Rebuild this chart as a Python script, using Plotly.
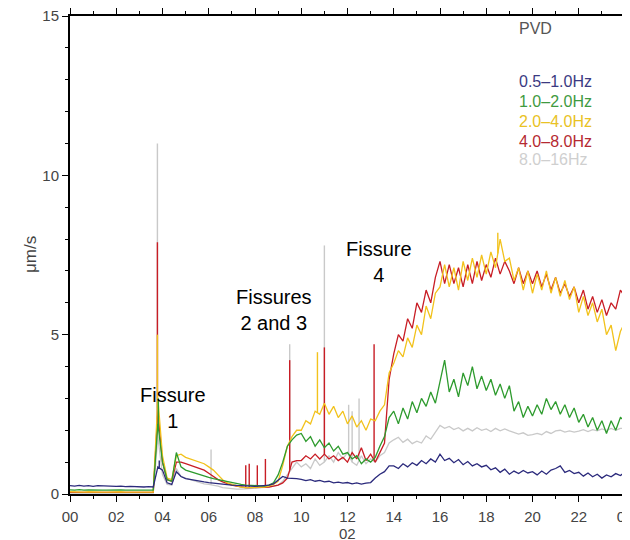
import numpy as np
import plotly.graph_objects as go

# ---- data ----
HOURS = [round(i * 0.2, 1) for i in range(121)]   # sample grid, 0..24 h every 0.2 h

BAND_NAMES = ["0.5\u20131.0Hz", "1.0\u20132.0Hz", "2.0\u20134.0Hz", "4.0\u20138.0Hz", "8.0\u201316Hz"]

BLUE = [0.26, 0.25, 0.27, 0.25, 0.26, 0.24, 0.26, 0.25, 0.24, 0.25,
        0.24, 0.25, 0.23, 0.24, 0.23, 0.24, 0.22, 0.23, 0.22, 0.85,
        0.75, 0.35, 0.30, 0.70, 0.55, 0.48, 0.45, 0.42, 0.40, 0.38,
        0.36, 0.34, 0.32, 0.30, 0.30, 0.28, 0.27, 0.27, 0.26, 0.25,
        0.24, 0.25, 0.26, 0.28, 0.32, 0.45, 0.55, 0.50, 0.50, 0.48,
        0.46, 0.42, 0.45, 0.40, 0.43, 0.38, 0.40, 0.35, 0.37, 0.34,
        0.36, 0.32, 0.35, 0.31, 0.34, 0.36, 0.50, 0.62, 0.70, 0.88,
        0.88, 0.80, 0.95, 0.85, 0.98, 0.90, 1.05, 0.95, 1.10, 1.00,
        1.25, 1.05, 1.12, 0.98, 1.08, 0.92, 1.02, 0.88, 0.95, 0.85,
        0.90, 0.76, 0.82, 0.68, 0.78, 0.62, 0.72, 0.64, 0.74, 0.66,
        0.70, 0.60, 0.72, 0.62, 0.75, 0.80, 0.88, 0.68, 0.74, 0.64,
        0.68, 0.56, 0.66, 0.54, 0.62, 0.50, 0.60, 0.54, 0.64, 0.58,
        0.68]

GREEN = [0.13, 0.12, 0.14, 0.12, 0.13, 0.12, 0.13, 0.12, 0.12, 0.13,
         0.12, 0.13, 0.12, 0.12, 0.11, 0.12, 0.12, 0.11, 0.12, 2.20,
         1.00, 0.45, 0.40, 1.30, 0.85, 0.75, 0.70, 0.65, 0.60, 0.56,
         0.52, 0.48, 0.45, 0.40, 0.38, 0.35, 0.32, 0.30, 0.28, 0.27,
         0.25, 0.24, 0.25, 0.28, 0.35, 0.60, 1.00, 1.50, 1.70, 1.85,
         1.90, 1.65, 1.80, 1.50, 1.70, 1.45, 1.60, 1.35, 1.50, 1.25,
         1.30, 1.10, 1.20, 0.95, 1.10, 1.00, 1.15, 1.50, 1.80, 2.40,
         2.60, 2.20, 2.70, 2.35, 2.90, 2.55, 3.00, 2.75, 3.20, 2.85,
         3.50, 4.20, 3.20, 3.60, 3.05, 3.80, 3.40, 4.00, 3.30, 3.70,
         3.25, 3.60, 3.10, 3.45, 3.00, 3.40, 2.60, 2.90, 2.40, 2.75,
         2.45, 2.80, 2.50, 3.00, 2.65, 2.90, 2.50, 2.80, 2.40, 2.70,
         2.25, 2.50, 2.10, 2.40, 2.00, 2.30, 1.90, 2.30, 2.00, 2.40,
         2.30]

YELLOW = [0.07, 0.06, 0.07, 0.06, 0.07, 0.06, 0.07, 0.06, 0.06, 0.07,
          0.06, 0.07, 0.06, 0.06, 0.06, 0.06, 0.06, 0.06, 0.06, 3.00,
          1.20, 0.50, 0.45, 1.20, 1.25, 1.15, 1.10, 1.05, 1.00, 0.95,
          0.85, 0.75, 0.60, 0.45, 0.35, 0.30, 0.25, 0.22, 0.20, 0.20,
          0.20, 0.20, 0.22, 0.25, 0.30, 0.40, 0.90, 1.50, 1.80, 2.00,
          2.00, 2.30, 2.20, 2.60, 2.50, 2.85, 2.50, 2.75, 2.40, 2.60,
          2.20, 2.45, 2.10, 2.30, 2.00, 2.35, 2.30, 2.60, 2.80, 3.80,
          4.10, 4.50, 4.30, 4.90, 4.60, 5.30, 5.00, 5.90, 5.50, 6.30,
          6.50, 7.20, 6.50, 7.10, 6.40, 7.30, 6.70, 7.40, 6.80, 7.50,
          6.90, 7.60, 7.10, 8.00, 7.30, 7.40, 6.70, 7.10, 6.40, 7.00,
          6.30, 6.90, 6.40, 7.00, 6.30, 6.80, 6.20, 6.70, 6.10, 6.50,
          5.70, 6.20, 5.60, 6.00, 5.40, 5.80, 5.00, 5.30, 4.50, 5.10,
          5.40]

RED = [0.05, 0.05, 0.06, 0.05, 0.05, 0.05, 0.06, 0.05, 0.05, 0.05,
       0.05, 0.05, 0.05, 0.06, 0.05, 0.05, 0.05, 0.05, 0.05, 2.60,
       1.00, 0.45, 0.40, 1.00, 1.00, 0.95, 0.90, 0.85, 0.80, 0.75,
       0.65, 0.55, 0.45, 0.38, 0.32, 0.28, 0.25, 0.22, 0.20, 0.20,
       0.20, 0.20, 0.20, 0.22, 0.25, 0.28, 0.35, 0.50, 1.00, 1.05,
       1.05, 1.20, 1.10, 1.25, 1.10, 1.25, 1.10, 1.20, 1.05, 1.15,
       1.00, 1.30, 1.10, 1.45, 1.05, 1.25, 1.00, 1.30, 1.60, 3.60,
       4.40, 5.00, 4.80, 5.50, 5.20, 6.00, 5.70, 6.40, 6.00, 6.80,
       7.30, 6.60, 7.20, 6.60, 7.10, 6.50, 7.20, 6.60, 7.30, 6.70,
       7.20, 6.80, 7.40, 6.90, 7.30, 7.00, 6.60, 7.10, 6.60, 7.00,
       6.60, 7.00, 6.50, 6.90, 6.40, 6.80, 6.30, 6.60, 6.20, 6.50,
       6.00, 6.40, 5.80, 6.20, 5.70, 6.10, 5.60, 6.00, 5.80, 6.40,
       6.20]

GRAY = [0.03, 0.03, 0.04, 0.03, 0.03, 0.03, 0.04, 0.03, 0.03, 0.03,
        0.03, 0.03, 0.03, 0.04, 0.03, 0.03, 0.03, 0.03, 0.03, 1.80,
        0.60, 0.30, 0.28, 0.80, 0.55, 0.50, 0.45, 0.40, 0.35, 0.32,
        0.30, 0.28, 0.25, 0.20, 0.18, 0.16, 0.15, 0.15, 0.16, 0.18,
        0.20, 0.20, 0.20, 0.22, 0.25, 0.28, 0.40, 0.60, 0.80, 1.00,
        0.85, 0.95, 0.80, 1.10, 0.90, 1.00, 1.20, 1.00, 1.30, 1.10,
        1.30, 1.00, 0.90, 1.20, 0.95, 1.10, 1.00, 1.20, 1.30, 1.60,
        1.70, 1.78, 1.62, 1.72, 1.58, 1.66, 1.60, 1.82, 1.72, 1.92,
        2.15, 2.06, 2.12, 2.02, 2.08, 1.98, 2.06, 1.98, 2.08, 2.00,
        2.04, 1.96, 2.06, 1.98, 2.04, 1.98, 1.92, 1.88, 1.92, 1.84,
        1.86, 1.90, 1.86, 1.96, 1.90, 1.98, 2.00, 1.94, 1.98, 1.94,
        1.97, 2.02, 1.96, 2.02, 1.98, 2.04, 2.00, 2.06, 2.00, 2.06,
        2.05]

# short transient spikes (hour, peak value)
SPIKE_H = {
    "gray":   [3.78, 6.10, 9.50, 11.00, 12.05, 12.20, 12.50],
    "red":    [3.78, 7.60, 7.75, 8.10, 8.45, 9.50, 11.00, 13.15],
    "yellow": [3.78, 10.70, 18.50],
    "green":  [3.82],
    "blue":   [3.86],
}
SPIKE_V = {
    "gray":   [11.0, 1.4, 4.7, 7.8, 2.8, 2.6, 3.0],
    "red":    [7.9, 0.9, 0.95, 0.9, 1.1, 4.2, 4.6, 4.7],
    "yellow": [5.0, 4.45, 8.2],
    "green":  [3.0],
    "blue":   [1.05],
}

X_TICKS = list(range(0, 25, 2))
X_LABELS = ["00", "02", "04", "06", "08", "10", "12", "14", "16", "18", "20", "22", "00"]

COLORS = {"blue": "#2b2a7c", "green": "#2e9b2e", "yellow": "#f2c21c",
          "red": "#c81d25", "gray": "#c9c9c9"}
LEGEND_COLORS = ["#3b3a82", "#3f9a3f", "#e9c224", "#b52a31", "#cfcfcf"]

SERIES = {"blue": BLUE, "green": GREEN, "yellow": YELLOW, "red": RED, "gray": GRAY}
DRAW_ORDER = ["gray", "red", "yellow", "green", "blue"]

fig = go.Figure()
for key in DRAW_ORDER:
    vals = SERIES[key]
    fig.add_trace(go.Scatter(x=HOURS, y=vals, mode="lines",
                             line=dict(color=COLORS[key], width=1.3),
                             showlegend=False, hoverinfo="skip"))
    sx, sy = [], []
    for h, v in zip(SPIKE_H[key], SPIKE_V[key]):
        base = float(np.interp(h, HOURS, vals))
        sx += [h, h, None]
        sy += [base, v, None]
    fig.add_trace(go.Scatter(x=sx, y=sy, mode="lines",
                             line=dict(color=COLORS[key], width=1.4),
                             showlegend=False, hoverinfo="skip"))

FONT = "Liberation Sans, Arial, Helvetica, sans-serif"
axis_common = dict(showline=True, linecolor="black", linewidth=2, mirror="ticks",
                   ticks="outside", ticklen=6, tickwidth=1, tickcolor="black",
                   showgrid=False, zeroline=False, ticklabeloverflow="allow",
                   tickfont=dict(family=FONT, size=15, color="#444444"))

fig.update_xaxes(range=[0, 24], tickmode="array", tickvals=X_TICKS, ticktext=X_LABELS,
                 ticklabelstandoff=2,
                 minor=dict(dtick=1, tick0=0, ticks="outside", ticklen=3, tickcolor="black"),
                 **axis_common)
fig.update_yaxes(range=[0, 15], tickmode="array", tickvals=[0, 5, 10, 15],
                 minor=dict(dtick=1, tick0=0, ticks="outside", ticklen=3, tickcolor="black"),
                 **axis_common)

ann = []
# legend-like labels
ann.append(dict(x=0.805, y=0.973, xref="paper", yref="paper", text="PVD", showarrow=False,
                xanchor="left", yanchor="middle", font=dict(family=FONT, size=16, color="#555555")))
LEG_Y = [0.862, 0.822, 0.780, 0.738, 0.699]
for name, col, ypos in zip(BAND_NAMES, LEGEND_COLORS, LEG_Y):
    ann.append(dict(x=0.805, y=ypos, xref="paper", yref="paper", text=name, showarrow=False,
                    xanchor="left", yanchor="middle", font=dict(family=FONT, size=16, color=col)))
# event labels
for txt, hx, vy in [("Fissure<br>1", 4.46, 2.70), ("Fissures<br>2 and 3", 8.83, 5.77),
                    ("Fissure<br>4", 13.38, 7.28)]:
    ann.append(dict(x=hx, y=vy, xref="x", yref="y", text=txt, showarrow=False,
                    xanchor="center", yanchor="middle", align="center",
                    font=dict(family=FONT, size=20, color="black")))
# date label and y title
ann.append(dict(x=0.5, y=-0.082, xref="paper", yref="paper", text="02", showarrow=False,
                xanchor="center", yanchor="middle", font=dict(family=FONT, size=15, color="#444444")))
ann.append(dict(x=-0.072, y=0.5, xref="paper", yref="paper", text="\u03bcm/s", showarrow=False,
                textangle=-90, xanchor="center", yanchor="middle",
                font=dict(family=FONT, size=17, color="#444444")))

# the page body adds an 8px offset; compensate so the plot frame lands at x 70..625, y 16..494
fig.update_layout(width=622, height=532, margin=dict(l=62, r=5, t=8, b=46, autoexpand=False),
                  paper_bgcolor="white", plot_bgcolor="white", annotations=ann)

fig.write_html("out.html")
